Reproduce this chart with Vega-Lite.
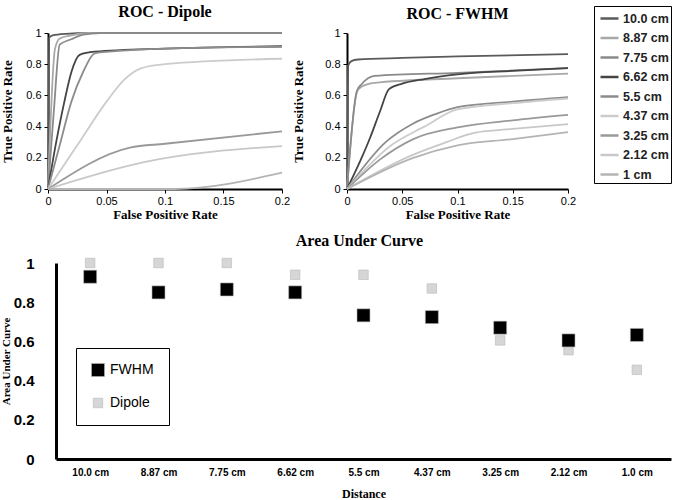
{
  "$schema": "https://vega.github.io/schema/vega-lite/v6.json",
  "padding": {"left": 0, "top": 4, "right": 2, "bottom": 0},
  "background": "white",
  "config": {
    "view": {"stroke": null},
    "font": "Liberation Sans",
    "title": {"font": "Liberation Serif", "fontSize": 16, "fontWeight": "bold", "color": "#000000", "offset": 7},
    "axis": {
      "domainColor": "#000000", "tickColor": "#000000", "labelColor": "#000000", "titleColor": "#000000",
      "labelFont": "Liberation Sans", "titleFont": "Liberation Serif", "titleFontWeight": "bold",
      "grid": false
    }
  },
  "datasets": {
    "roc": [
      {"panel":"Dipole","dist":"10.0 cm","fpr":0,"tpr":0},
      {"panel":"Dipole","dist":"10.0 cm","fpr":0.001,"tpr":0.97},
      {"panel":"Dipole","dist":"10.0 cm","fpr":0.004,"tpr":0.985},
      {"panel":"Dipole","dist":"10.0 cm","fpr":0.015,"tpr":0.995},
      {"panel":"Dipole","dist":"10.0 cm","fpr":0.035,"tpr":1},
      {"panel":"Dipole","dist":"10.0 cm","fpr":0.2,"tpr":1},
      {"panel":"Dipole","dist":"8.87 cm","fpr":0,"tpr":0},
      {"panel":"Dipole","dist":"8.87 cm","fpr":0.006,"tpr":0.9},
      {"panel":"Dipole","dist":"8.87 cm","fpr":0.01,"tpr":0.965},
      {"panel":"Dipole","dist":"8.87 cm","fpr":0.02,"tpr":0.985},
      {"panel":"Dipole","dist":"8.87 cm","fpr":0.035,"tpr":1},
      {"panel":"Dipole","dist":"8.87 cm","fpr":0.2,"tpr":1},
      {"panel":"Dipole","dist":"7.75 cm","fpr":0,"tpr":0},
      {"panel":"Dipole","dist":"7.75 cm","fpr":0.005,"tpr":0.5},
      {"panel":"Dipole","dist":"7.75 cm","fpr":0.01,"tpr":0.925},
      {"panel":"Dipole","dist":"7.75 cm","fpr":0.02,"tpr":0.96},
      {"panel":"Dipole","dist":"7.75 cm","fpr":0.03,"tpr":0.99},
      {"panel":"Dipole","dist":"7.75 cm","fpr":0.045,"tpr":1},
      {"panel":"Dipole","dist":"7.75 cm","fpr":0.2,"tpr":1},
      {"panel":"Dipole","dist":"6.62 cm","fpr":0,"tpr":0},
      {"panel":"Dipole","dist":"6.62 cm","fpr":0.007,"tpr":0.3},
      {"panel":"Dipole","dist":"6.62 cm","fpr":0.014,"tpr":0.56},
      {"panel":"Dipole","dist":"6.62 cm","fpr":0.02,"tpr":0.75},
      {"panel":"Dipole","dist":"6.62 cm","fpr":0.027,"tpr":0.86},
      {"panel":"Dipole","dist":"6.62 cm","fpr":0.04,"tpr":0.88},
      {"panel":"Dipole","dist":"6.62 cm","fpr":0.1,"tpr":0.9},
      {"panel":"Dipole","dist":"6.62 cm","fpr":0.2,"tpr":0.915},
      {"panel":"Dipole","dist":"5.5 cm","fpr":0,"tpr":0},
      {"panel":"Dipole","dist":"5.5 cm","fpr":0.01,"tpr":0.28},
      {"panel":"Dipole","dist":"5.5 cm","fpr":0.02,"tpr":0.56},
      {"panel":"Dipole","dist":"5.5 cm","fpr":0.03,"tpr":0.75},
      {"panel":"Dipole","dist":"5.5 cm","fpr":0.04,"tpr":0.87},
      {"panel":"Dipole","dist":"5.5 cm","fpr":0.06,"tpr":0.885},
      {"panel":"Dipole","dist":"5.5 cm","fpr":0.1,"tpr":0.9},
      {"panel":"Dipole","dist":"5.5 cm","fpr":0.2,"tpr":0.912},
      {"panel":"Dipole","dist":"4.37 cm","fpr":0,"tpr":0},
      {"panel":"Dipole","dist":"4.37 cm","fpr":0.025,"tpr":0.28},
      {"panel":"Dipole","dist":"4.37 cm","fpr":0.05,"tpr":0.56},
      {"panel":"Dipole","dist":"4.37 cm","fpr":0.065,"tpr":0.7},
      {"panel":"Dipole","dist":"4.37 cm","fpr":0.08,"tpr":0.775},
      {"panel":"Dipole","dist":"4.37 cm","fpr":0.1,"tpr":0.8},
      {"panel":"Dipole","dist":"4.37 cm","fpr":0.2,"tpr":0.835},
      {"panel":"Dipole","dist":"3.25 cm","fpr":0,"tpr":0},
      {"panel":"Dipole","dist":"3.25 cm","fpr":0.07,"tpr":0.265},
      {"panel":"Dipole","dist":"3.25 cm","fpr":0.1,"tpr":0.29},
      {"panel":"Dipole","dist":"3.25 cm","fpr":0.2,"tpr":0.37},
      {"panel":"Dipole","dist":"2.12 cm","fpr":0,"tpr":0},
      {"panel":"Dipole","dist":"2.12 cm","fpr":0.082,"tpr":0.172},
      {"panel":"Dipole","dist":"2.12 cm","fpr":0.2,"tpr":0.275},
      {"panel":"Dipole","dist":"1 cm","fpr":0,"tpr":0},
      {"panel":"Dipole","dist":"1 cm","fpr":0.108,"tpr":0},
      {"panel":"Dipole","dist":"1 cm","fpr":0.2,"tpr":0.105},
      {"panel":"FWHM","dist":"10.0 cm","fpr":0,"tpr":0},
      {"panel":"FWHM","dist":"10.0 cm","fpr":0.001,"tpr":0.79},
      {"panel":"FWHM","dist":"10.0 cm","fpr":0.004,"tpr":0.82},
      {"panel":"FWHM","dist":"10.0 cm","fpr":0.01,"tpr":0.83},
      {"panel":"FWHM","dist":"10.0 cm","fpr":0.05,"tpr":0.84},
      {"panel":"FWHM","dist":"10.0 cm","fpr":0.1,"tpr":0.85},
      {"panel":"FWHM","dist":"10.0 cm","fpr":0.2,"tpr":0.865},
      {"panel":"FWHM","dist":"8.87 cm","fpr":0,"tpr":0},
      {"panel":"FWHM","dist":"8.87 cm","fpr":0.009,"tpr":0.62},
      {"panel":"FWHM","dist":"8.87 cm","fpr":0.013,"tpr":0.655},
      {"panel":"FWHM","dist":"8.87 cm","fpr":0.025,"tpr":0.68},
      {"panel":"FWHM","dist":"8.87 cm","fpr":0.1,"tpr":0.71},
      {"panel":"FWHM","dist":"8.87 cm","fpr":0.2,"tpr":0.74},
      {"panel":"FWHM","dist":"7.75 cm","fpr":0,"tpr":0},
      {"panel":"FWHM","dist":"7.75 cm","fpr":0.009,"tpr":0.63},
      {"panel":"FWHM","dist":"7.75 cm","fpr":0.013,"tpr":0.67},
      {"panel":"FWHM","dist":"7.75 cm","fpr":0.025,"tpr":0.725},
      {"panel":"FWHM","dist":"7.75 cm","fpr":0.1,"tpr":0.745},
      {"panel":"FWHM","dist":"7.75 cm","fpr":0.2,"tpr":0.775},
      {"panel":"FWHM","dist":"6.62 cm","fpr":0,"tpr":0},
      {"panel":"FWHM","dist":"6.62 cm","fpr":0.012,"tpr":0.18},
      {"panel":"FWHM","dist":"6.62 cm","fpr":0.021,"tpr":0.33},
      {"panel":"FWHM","dist":"6.62 cm","fpr":0.03,"tpr":0.5},
      {"panel":"FWHM","dist":"6.62 cm","fpr":0.038,"tpr":0.64},
      {"panel":"FWHM","dist":"6.62 cm","fpr":0.05,"tpr":0.675},
      {"panel":"FWHM","dist":"6.62 cm","fpr":0.07,"tpr":0.705},
      {"panel":"FWHM","dist":"6.62 cm","fpr":0.1,"tpr":0.735},
      {"panel":"FWHM","dist":"6.62 cm","fpr":0.15,"tpr":0.757},
      {"panel":"FWHM","dist":"6.62 cm","fpr":0.2,"tpr":0.775},
      {"panel":"FWHM","dist":"5.5 cm","fpr":0,"tpr":0},
      {"panel":"FWHM","dist":"5.5 cm","fpr":0.035,"tpr":0.3},
      {"panel":"FWHM","dist":"5.5 cm","fpr":0.06,"tpr":0.42},
      {"panel":"FWHM","dist":"5.5 cm","fpr":0.08,"tpr":0.48},
      {"panel":"FWHM","dist":"5.5 cm","fpr":0.1,"tpr":0.525},
      {"panel":"FWHM","dist":"5.5 cm","fpr":0.15,"tpr":0.56},
      {"panel":"FWHM","dist":"5.5 cm","fpr":0.2,"tpr":0.588},
      {"panel":"FWHM","dist":"4.37 cm","fpr":0,"tpr":0},
      {"panel":"FWHM","dist":"4.37 cm","fpr":0.04,"tpr":0.28},
      {"panel":"FWHM","dist":"4.37 cm","fpr":0.07,"tpr":0.4},
      {"panel":"FWHM","dist":"4.37 cm","fpr":0.1,"tpr":0.51},
      {"panel":"FWHM","dist":"4.37 cm","fpr":0.15,"tpr":0.55},
      {"panel":"FWHM","dist":"4.37 cm","fpr":0.2,"tpr":0.58},
      {"panel":"FWHM","dist":"3.25 cm","fpr":0,"tpr":0},
      {"panel":"FWHM","dist":"3.25 cm","fpr":0.03,"tpr":0.19},
      {"panel":"FWHM","dist":"3.25 cm","fpr":0.06,"tpr":0.32},
      {"panel":"FWHM","dist":"3.25 cm","fpr":0.1,"tpr":0.395},
      {"panel":"FWHM","dist":"3.25 cm","fpr":0.15,"tpr":0.44},
      {"panel":"FWHM","dist":"3.25 cm","fpr":0.2,"tpr":0.475},
      {"panel":"FWHM","dist":"2.12 cm","fpr":0,"tpr":0},
      {"panel":"FWHM","dist":"2.12 cm","fpr":0.06,"tpr":0.22},
      {"panel":"FWHM","dist":"2.12 cm","fpr":0.09,"tpr":0.3},
      {"panel":"FWHM","dist":"2.12 cm","fpr":0.115,"tpr":0.36},
      {"panel":"FWHM","dist":"2.12 cm","fpr":0.15,"tpr":0.385},
      {"panel":"FWHM","dist":"2.12 cm","fpr":0.2,"tpr":0.415},
      {"panel":"FWHM","dist":"1 cm","fpr":0,"tpr":0},
      {"panel":"FWHM","dist":"1 cm","fpr":0.06,"tpr":0.2},
      {"panel":"FWHM","dist":"1 cm","fpr":0.1,"tpr":0.28},
      {"panel":"FWHM","dist":"1 cm","fpr":0.15,"tpr":0.32},
      {"panel":"FWHM","dist":"1 cm","fpr":0.2,"tpr":0.365}
    ],
    "auc": [
      {"method":"Dipole","dist":"10.0 cm","auc":1.0},
      {"method":"Dipole","dist":"8.87 cm","auc":1.0},
      {"method":"Dipole","dist":"7.75 cm","auc":1.0},
      {"method":"Dipole","dist":"6.62 cm","auc":0.94},
      {"method":"Dipole","dist":"5.5 cm","auc":0.94},
      {"method":"Dipole","dist":"4.37 cm","auc":0.87},
      {"method":"Dipole","dist":"3.25 cm","auc":0.605},
      {"method":"Dipole","dist":"2.12 cm","auc":0.555},
      {"method":"Dipole","dist":"1.0 cm","auc":0.455},
      {"method":"FWHM","dist":"10.0 cm","auc":0.93},
      {"method":"FWHM","dist":"8.87 cm","auc":0.85},
      {"method":"FWHM","dist":"7.75 cm","auc":0.865},
      {"method":"FWHM","dist":"6.62 cm","auc":0.85},
      {"method":"FWHM","dist":"5.5 cm","auc":0.733},
      {"method":"FWHM","dist":"4.37 cm","auc":0.724},
      {"method":"FWHM","dist":"3.25 cm","auc":0.67},
      {"method":"FWHM","dist":"2.12 cm","auc":0.605},
      {"method":"FWHM","dist":"1.0 cm","auc":0.633}
    ]
  },
  "spacing": 12,
  "resolve": {"scale": {"color": "independent", "size": "independent"}, "legend": {"color": "independent", "size": "independent"}},
  "vconcat": [
    {
      "hconcat": [
        {
          "title": "ROC - Dipole",
          "width": 234, "height": 156,
          "data": {"name": "roc"},
          "transform": [{"filter": "datum.panel === 'Dipole'"}],
          "mark": {"type": "line", "strokeWidth": 1.8, "interpolate": "monotone"},
          "encoding": {
            "x": {"field": "fpr", "type": "quantitative", "scale": {"domain": [0, 0.2], "nice": false},
                  "axis": {"values": [0, 0.05, 0.1, 0.15, 0.2], "format": "~g", "title": "False Positive Rate", "titleFontSize": 13, "labelFontSize": 11, "domainWidth": 2, "tickSize": 4, "titlePadding": 2, "labelFlush": false}},
            "y": {"field": "tpr", "type": "quantitative", "scale": {"domain": [0, 1], "nice": false},
                  "axis": {"values": [0, 0.2, 0.4, 0.6, 0.8, 1], "format": "~g", "title": "True Positive Rate", "titleFontSize": 13, "labelFontSize": 11, "domainWidth": 2, "tickSize": 4, "labelPadding": 3, "titlePadding": 11}},
            "color": {"field": "dist", "type": "nominal",
                      "scale": {"domain": ["10.0 cm","8.87 cm","7.75 cm","6.62 cm","5.5 cm","4.37 cm","3.25 cm","2.12 cm","1 cm"],
                                "range": ["#5a5a5a","#a8a8a8","#8a8a8a","#444444","#8c8c8c","#cccccc","#999999","#c8c8c8","#b4b4b4"]},
                      "legend": null}
          }
        },
        {
          "title": {"text": "ROC - FWHM", "offset": -16},
          "width": 221, "height": 156,
          "data": {"name": "roc"},
          "transform": [{"filter": "datum.panel === 'FWHM'"}],
          "mark": {"type": "line", "strokeWidth": 1.8, "interpolate": "monotone"},
          "encoding": {
            "x": {"field": "fpr", "type": "quantitative", "scale": {"domain": [0, 0.2], "nice": false},
                  "axis": {"values": [0, 0.05, 0.1, 0.15, 0.2], "format": "~g", "title": "False Positive Rate", "titleFontSize": 13, "labelFontSize": 11, "domainWidth": 2, "tickSize": 4, "titlePadding": 2, "labelFlush": false}},
            "y": {"field": "tpr", "type": "quantitative", "scale": {"domain": [0, 1], "nice": false},
                  "axis": {"values": [0, 0.2, 0.4, 0.6, 0.8, 1], "format": "~g", "title": "True Positive Rate", "titleFontSize": 13, "labelFontSize": 11, "domainWidth": 2, "tickSize": 4, "labelPadding": 3, "titlePadding": 19}},
            "color": {"field": "dist", "type": "nominal",
                      "scale": {"domain": ["10.0 cm","8.87 cm","7.75 cm","6.62 cm","5.5 cm","4.37 cm","3.25 cm","2.12 cm","1 cm"],
                                "range": ["#5a5a5a","#a8a8a8","#8a8a8a","#444444","#8c8c8c","#cccccc","#999999","#c8c8c8","#b4b4b4"]},
                      "legend": {"title": null, "orient": "none", "legendX": 247, "legendY": -27,
                                 "symbolType": "stroke", "symbolSize": 324, "symbolStrokeWidth": 2.5, "symbolOffset": 3,
                                 "labelFontSize": 12.5, "labelFontWeight": "bold", "labelColor": "#222222", "labelOffset": 3,
                                 "rowPadding": 2.5, "padding": 2, "strokeColor": "#000000", "fillColor": "#ffffff"}}
          }
        }
      ],
      "spacing": 2,
      "resolve": {"legend": {"color": "independent"}}
    },
    {
      "title": {"text": "Area Under Curve", "offset": 7},
      "width": 623, "height": 196,
      "data": {"name": "auc"},
      "mark": {"type": "square", "opacity": 1, "filled": true, "stroke": "#b8b8b8", "strokeWidth": 0.6},
      "encoding": {
        "x": {"field": "dist", "type": "nominal", "sort": null, "scale": {"range": [8, 623], "padding": 0.5},
              "axis": {"title": "Distance", "titleFontSize": 12, "labelAngle": 0, "labelFontSize": 10, "labelFontWeight": "bold", "ticks": false, "domainWidth": 3, "labelPadding": 8, "titlePadding": 11}},
        "y": {"field": "auc", "type": "quantitative", "scale": {"domain": [0, 1], "nice": false},
              "axis": {"values": [0, 0.2, 0.4, 0.6, 0.8, 1], "format": "~g", "title": "Area Under Curve", "titleFontSize": 11, "labelFontSize": 15, "labelFontWeight": "bold", "ticks": false, "domainWidth": 3, "labelPadding": 22, "titlePadding": 2, "offset": -8}},
        "color": {"field": "method", "type": "nominal", "scale": {"domain": ["FWHM", "Dipole"], "range": ["#000000", "#d6d6d6"]},
                  "legend": {"title": null, "orient": "none", "legendX": 28, "legendY": 85, "symbolType": "square", "symbolSize": 110,
                             "labelFontSize": 14, "labelFont": "Liberation Sans", "rowPadding": 18, "padding": 15, "labelOffset": 5,
                             "strokeColor": "#000000", "symbolStrokeColor": "#b8b8b8", "symbolStrokeWidth": 0.6}},
        "size": {"field": "method", "type": "nominal", "scale": {"domain": ["FWHM", "Dipole"], "range": [170, 90]}, "legend": null}
      }
    }
  ]
}
